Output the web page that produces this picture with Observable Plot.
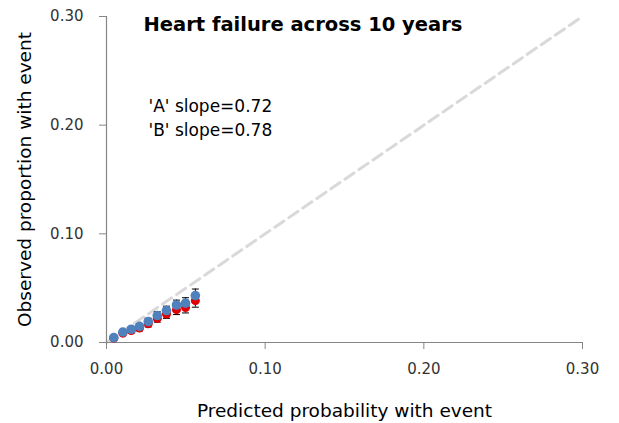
<!DOCTYPE html>
<html>
<head>
<meta charset="utf-8">
<script src="https://cdn.jsdelivr.net/npm/d3@7"></script>
<script src="https://cdn.jsdelivr.net/npm/@observablehq/plot@0.6"></script>
<style>
  html, body { margin: 0; padding: 0; background: #fff; }
  #chart { width: 619px; height: 423px; }
</style>
</head>
<body>
<div id="chart"></div>
<script>
// ---- data ----
const predicted = [0.0046, 0.0103, 0.0156, 0.0208, 0.0263, 0.0320, 0.0378, 0.0441, 0.0498, 0.0560];
const observedA = [0.0040, 0.0086, 0.0110, 0.0133, 0.0173, 0.0222, 0.0262, 0.0302, 0.0322, 0.0385];
const observedB = [0.0045, 0.0096, 0.0122, 0.0148, 0.0193, 0.0248, 0.0294, 0.0345, 0.0362, 0.0432];
const ciHalfA   = [0.0010, 0.0015, 0.0020, 0.0025, 0.0030, 0.0035, 0.0040, 0.0045, 0.0050, 0.0060];
const ciHalfB   = [0.0010, 0.0015, 0.0020, 0.0025, 0.0030, 0.0035, 0.0040, 0.0045, 0.0050, 0.0060];
const xTicks = [0, 0.1, 0.2, 0.3];
const yTicks = [0, 0.1, 0.2, 0.3];
const diagonal = [0, 0.3];
const titleText = "Heart failure across 10 years";
const annotations = ["'A' slope=0.72", "'B' slope=0.78"];
const xLabel = "Predicted probability with event";
const yLabel = "Observed proportion with event";

const rows = (obs, ci, series) => predicted.map((p, i) => ({
  pred: p, obs: obs[i], lo: obs[i] - ci[i], hi: obs[i] + ci[i], series
}));
const dataA = rows(observedA, ciHalfA, "A");
const dataB = rows(observedB, ciHalfB, "B");

const cap = { draw(ctx, size) { const w = Math.sqrt(size / Math.PI); ctx.moveTo(-w, 0); ctx.lineTo(w, 0); } };
const font = "'DejaVu Sans', sans-serif";

const chart = Plot.plot({
  width: 619,
  height: 423,
  marginLeft: 106,
  marginRight: 37,
  marginTop: 16,
  marginBottom: 81,
  style: { fontFamily: font, fontSize: "15px", color: "#333", background: "#fff" },
  x: { domain: [0, 0.3], label: null },
  y: { domain: [0, 0.3], label: null },
  marks: [
    Plot.line(diagonal.map(d => ({x: d, y: d})), { x: "x", y: "y", stroke: "#d9d9d9", strokeWidth: 3, strokeDasharray: "11,6" }),
    Plot.ruleY([0], { stroke: "#868686", strokeWidth: 1.2 }),
    Plot.ruleX([0], { stroke: "#868686", strokeWidth: 1.2 }),
    Plot.axisX({ ticks: xTicks, tickFormat: d3.format(".2f"), tickSize: 7, tickPadding: 14, stroke: "#868686", fontSize: 15, fill: "#333", label: null }),
    Plot.axisY({ ticks: yTicks, tickFormat: d3.format(".2f"), tickSize: 7, tickPadding: 16, stroke: "#868686", fontSize: 15, fill: "#333", label: null }),
    // error bars
    Plot.ruleX(dataA, { x: "pred", y1: "lo", y2: "hi", stroke: "#000", strokeWidth: 1 }),
    Plot.dot(dataA, { x: "pred", y: "lo", symbol: cap, r: 3.5, stroke: "#000", strokeWidth: 1 }),
    Plot.dot(dataA, { x: "pred", y: "hi", symbol: cap, r: 3.5, stroke: "#000", strokeWidth: 1 }),
    Plot.ruleX(dataB, { x: "pred", y1: "lo", y2: "hi", stroke: "#000", strokeWidth: 1 }),
    Plot.dot(dataB, { x: "pred", y: "lo", symbol: cap, r: 3.5, stroke: "#000", strokeWidth: 1 }),
    Plot.dot(dataB, { x: "pred", y: "hi", symbol: cap, r: 3.5, stroke: "#000", strokeWidth: 1 }),
    // points
    Plot.dot(dataA, { x: "pred", y: "obs", r: 4.5, fill: "#e00000", stroke: "none" }),
    Plot.dot(dataB, { x: "pred", y: "obs", r: 4.8, fill: "#4f81bd", stroke: "none" }),
    // title and annotations
    Plot.text([titleText], { frameAnchor: "top-left", dx: 37, dy: 14, text: d => d, fontSize: 19.5, fontWeight: "bold", fill: "#000", textAnchor: "start", lineAnchor: "bottom" }),
    Plot.text([annotations[0]], { frameAnchor: "top-left", dx: 42, dy: 95, text: d => d, fontSize: 17, fill: "#000", textAnchor: "start", lineAnchor: "bottom" }),
    Plot.text([annotations[1]], { frameAnchor: "top-left", dx: 42, dy: 119, text: d => d, fontSize: 17, fill: "#000", textAnchor: "start", lineAnchor: "bottom" }),
    // axis titles
    Plot.text([xLabel], { frameAnchor: "bottom", dy: 69, text: d => d, fontSize: 18.5, fill: "#000", textAnchor: "middle", lineAnchor: "middle" }),
    Plot.text([yLabel], { frameAnchor: "left", dx: -81, text: d => d, fontSize: 18.5, fill: "#000", rotate: -90, textAnchor: "middle", lineAnchor: "middle" })
  ]
});
document.getElementById("chart").appendChild(chart);
</script>
</body>
</html>
